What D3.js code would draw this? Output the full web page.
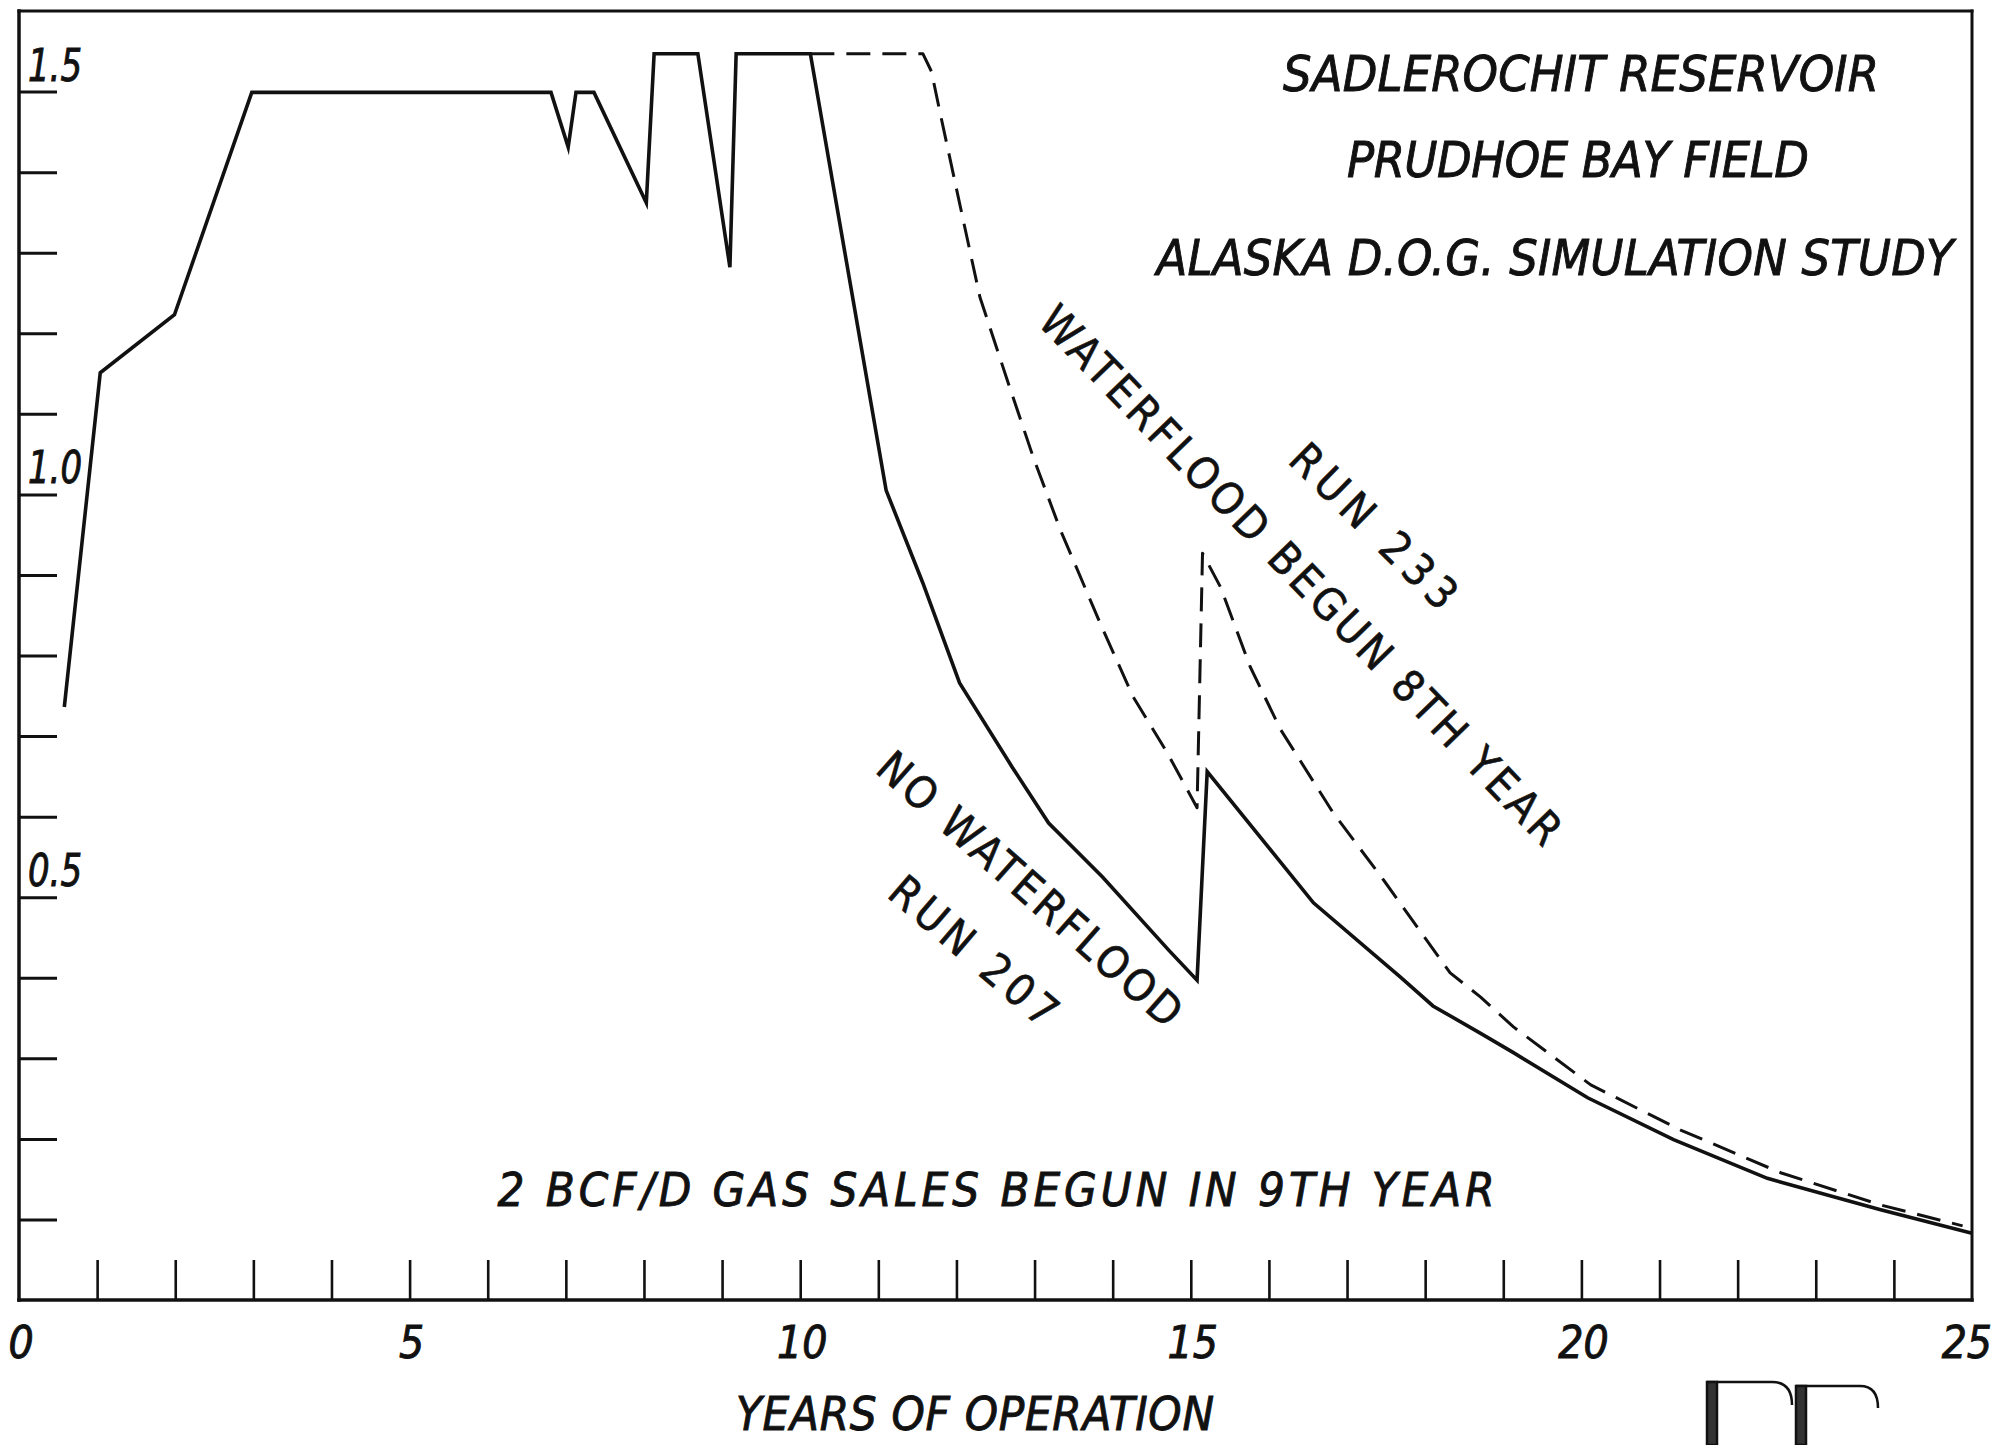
<!DOCTYPE html>
<html>
<head>
<meta charset="utf-8">
<script src="https://cdn.jsdelivr.net/npm/d3@7"></script>
<style>
  html, body { margin: 0; padding: 0; background: #ffffff; }
  svg { display: block; }
  text { fill: #111; font-family: "Liberation Sans Narrow", "DejaVu Sans Condensed", "Liberation Sans", sans-serif; }
  .heavy { stroke: #111; stroke-width: 0.9; }
</style>
</head>
<body>
<script>
// ---------------- data ----------------
// Run 207 (no waterflood) — solid line
const run207Years  = [0.58, 1.04, 1.99, 2.98, 6.81, 7.03, 7.13, 7.36, 8.03, 8.13, 8.69, 9.10, 9.18, 10.13, 11.10, 11.57, 12.04, 12.71, 13.18, 13.87, 14.72, 15.08, 15.21, 16.57, 17.68, 18.10, 18.71, 19.13, 20.08, 21.18, 22.38, 23.83, 25.00];
const run207Values = [0.736, 1.151, 1.223, 1.499, 1.499, 1.431, 1.499, 1.499, 1.362, 1.547, 1.547, 1.282, 1.547, 1.547, 1.005, 0.890, 0.766, 0.662, 0.592, 0.525, 0.434, 0.397, 0.656, 0.493, 0.401, 0.365, 0.331, 0.307, 0.251, 0.199, 0.151, 0.112, 0.083];

// Run 233 (waterflood begun 8th year) — dashed line
const run233Years  = [10.13, 11.57, 11.68, 11.79, 12.05, 12.30, 12.65, 12.98, 13.33, 13.84, 14.26, 14.70, 15.08, 15.15, 15.38, 15.76, 16.15, 16.82, 17.47, 18.32, 18.71, 19.13, 20.12, 21.27, 22.55, 23.83, 24.88];
const run233Values = [1.547, 1.547, 1.525, 1.474, 1.357, 1.245, 1.142, 1.047, 0.956, 0.840, 0.749, 0.679, 0.611, 0.927, 0.885, 0.786, 0.708, 0.605, 0.521, 0.406, 0.376, 0.339, 0.267, 0.211, 0.158, 0.118, 0.092];

const xTickValues = d3.range(0, 26);           // one tick per year
const xLabelValues = [0, 5, 10, 15, 20, 25];
const yTickValues = d3.range(1, 16).map(d => d / 10);
const yLabelValues = [1.5, 1.0, 0.5];

const titleLines = ["SADLEROCHIT RESERVOIR", "PRUDHOE BAY FIELD", "ALASKA D.O.G. SIMULATION STUDY"];
const noteText = "2 BCF/D GAS SALES BEGUN IN 9TH YEAR";
const xAxisTitle = "YEARS OF OPERATION";
const runLabels = ["RUN 233", "WATERFLOOD BEGUN 8TH YEAR", "NO WATERFLOOD", "RUN 207"];

// ---------------- layout ----------------
const W = 1997, H = 1445;
const svg = d3.select("body").append("svg").attr("width", W).attr("height", H);
svg.append("rect").attr("width", W).attr("height", H).attr("fill", "#fff");

const x = d3.scaleLinear().domain([0, 25]).range([19, 1972]);
const y = d3.scaleLinear().domain([0, 1.6]).range([1300, 11]);

// frame
const frame = svg.append("g").attr("stroke", "#111").attr("fill", "none").attr("stroke-linecap", "square");
frame.append("line").attr("x1", x(0)).attr("x2", x(25)).attr("y1", y(1.6)).attr("y2", y(1.6)).attr("stroke-width", 3);
frame.append("line").attr("x1", x(25)).attr("x2", x(25)).attr("y1", y(1.6)).attr("y2", y(0)).attr("stroke-width", 3);
frame.append("line").attr("x1", x(0)).attr("x2", x(0)).attr("y1", y(1.6)).attr("y2", y(0)).attr("stroke-width", 3.5);
frame.append("line").attr("x1", x(0)).attr("x2", x(25)).attr("y1", y(0)).attr("y2", y(0)).attr("stroke-width", 3.5);

// axes (ticks drawn inward)
const xAxis = d3.axisBottom(x).tickValues(xTickValues.filter(v => v > 0 && v < 25))
  .tickSizeInner(-40).tickSizeOuter(0).tickFormat("");
const gx = svg.append("g").attr("transform", `translate(0,${y(0)})`).call(xAxis);
gx.select(".domain").remove();
gx.selectAll(".tick line").attr("stroke", "#111").attr("stroke-width", 2.6);

const yAxis = d3.axisLeft(y).tickValues(yTickValues)
  .tickSizeInner(-38).tickSizeOuter(0).tickFormat("");
const gy = svg.append("g").attr("transform", `translate(${x(0)},0)`).call(yAxis);
gy.select(".domain").remove();
gy.selectAll(".tick line").attr("stroke", "#111").attr("stroke-width", 3);

// tick labels
svg.append("g").selectAll("text").data(xLabelValues).join("text")
  .attr("class", "heavy")
  .attr("x", d => d === 25 ? 1992 : x(d) + 2).attr("y", 1358)
  .attr("text-anchor", d => d === 25 ? "end" : "middle")
  .attr("font-size", 44).attr("font-style", "italic")
  .text(d => d);

svg.append("g").selectAll("text").data(yLabelValues).join("text")
  .attr("class", "heavy")
  .attr("x", 28).attr("y", d => y(d) - 11)
  .attr("font-size", 44).attr("font-style", "italic")
  .attr("textLength", 54).attr("lengthAdjust", "spacingAndGlyphs")
  .text(d => d.toFixed(1));

// axis title
svg.append("text").attr("class", "heavy").attr("x", 975).attr("y", 1430).attr("text-anchor", "middle")
  .attr("font-size", 47).attr("font-style", "italic")
  .attr("textLength", 478).attr("lengthAdjust", "spacing")
  .text(xAxisTitle);

// title block
const titleSpecs = [
  { x: 1581, y: 91, len: 596 },
  { x: 1578, y: 177, len: 462 },
  { x: 1555, y: 275, len: 797 }
];
svg.append("g").selectAll("text").data(titleLines).join("text")
  .attr("class", "heavy")
  .attr("x", (d, i) => titleSpecs[i].x).attr("y", (d, i) => titleSpecs[i].y)
  .attr("text-anchor", "middle").attr("font-size", 50).attr("font-style", "italic")
  .attr("textLength", (d, i) => titleSpecs[i].len).attr("lengthAdjust", "spacing")
  .text(d => d);

// note
svg.append("text").attr("class", "heavy").attr("x", 996).attr("y", 1206).attr("text-anchor", "middle")
  .attr("font-size", 47).attr("font-style", "italic")
  .attr("textLength", 997).attr("lengthAdjust", "spacing")
  .text(noteText);

// curves
const line = d3.line().x(d => x(d[0])).y(d => y(d[1]));
const run207 = run207Years.map((v, i) => [v, run207Values[i]]);
const run233 = run233Years.map((v, i) => [v, run233Values[i]]);

svg.append("path").datum(run233).attr("d", line)
  .attr("fill", "none").attr("stroke", "#111").attr("stroke-width", 3)
  .attr("stroke-dasharray", "24,12").attr("stroke-linejoin", "round");

svg.append("path").datum(run207).attr("d", line)
  .attr("fill", "none").attr("stroke", "#111").attr("stroke-width", 3.6)
  .attr("stroke-linejoin", "miter").attr("stroke-miterlimit", 6);

// rotated run labels
const labelSpecs = [
  { cx: 1374, cy: 526, angle: 44.5, len: 215 },
  { cx: 1301, cy: 575, angle: 46, len: 730 },
  { cx: 1030, cy: 889, angle: 41.5, len: 390 },
  { cx: 974, cy: 951, angle: 40.5, len: 206 }
];
svg.append("g").selectAll("text").data(runLabels).join("text")
  .attr("transform", (d, i) => `translate(${labelSpecs[i].cx},${labelSpecs[i].cy}) rotate(${labelSpecs[i].angle})`)
  .attr("text-anchor", "middle").attr("dominant-baseline", "central")
  .attr("font-size", 44).attr("stroke", "#111").attr("stroke-width", 0.6)
  .attr("textLength", (d, i) => labelSpecs[i].len).attr("lengthAdjust", "spacing")
  .text(d => d);

// publisher mark (partially cut at the bottom)
const logo = svg.append("g").attr("stroke", "#111").attr("fill", "none").attr("stroke-width", 2.5);
logo.append("path").attr("d", "M1708,1445 V1382 H1772 Q1792,1382 1792,1405");
logo.append("rect").attr("x", 1707).attr("y", 1382).attr("width", 10).attr("height", 63).attr("fill", "#333");
logo.append("path").attr("d", "M1797,1445 V1386 H1860 Q1878,1386 1878,1408");
logo.append("rect").attr("x", 1796).attr("y", 1386).attr("width", 10).attr("height", 59).attr("fill", "#333");
</script>
</body>
</html>
